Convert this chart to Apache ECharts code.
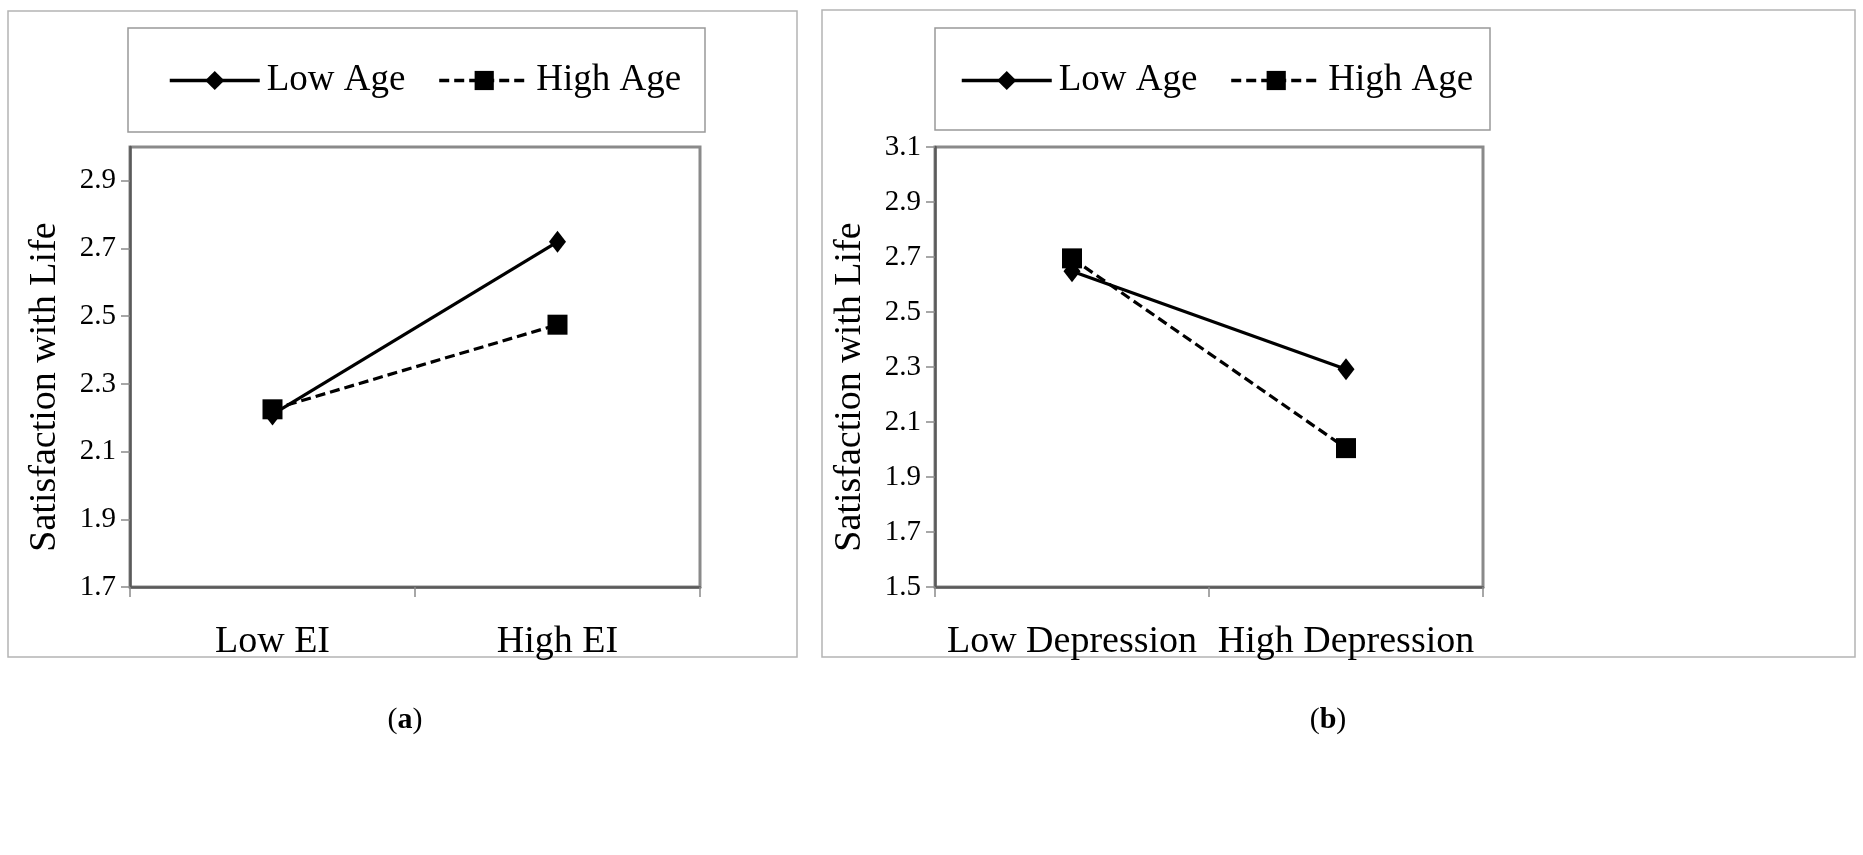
<!DOCTYPE html>
<html>
<head>
<meta charset="utf-8">
<script src="https://cdn.jsdelivr.net/npm/echarts@6/dist/echarts.min.js"></script>
<style>
html,body{margin:0;padding:0;background:#fff;}
#c{width:1863px;height:855px;}
</style>
</head>
<body>
<div id="c"></div>
<script>
// ---- data ----
const seriesNames = ['Low Age', 'High Age'];
const catsA = ['Low EI', 'High EI'];
const lowAgeA = [2.21, 2.72];
const highAgeA = [2.225, 2.475];
const catsB = ['Low Depression', 'High Depression'];
const lowAgeB = [2.648, 2.292];
const highAgeB = [2.695, 2.005];
const yAxisTitle = 'Satisfaction with Life';
const ticksA = [1.7, 1.9, 2.1, 2.3, 2.5, 2.7, 2.9];
const rangeA = [1.7, 3.0];
const ticksB = [1.5, 1.7, 1.9, 2.1, 2.3, 2.5, 2.7, 2.9, 3.1];
const rangeB = [1.5, 3.1];
const captions = ['a', 'b'];

// ---- chart ----
const chart = echarts.init(document.getElementById('c'));
const serif = 'Liberation Serif';

function yAxisFor(ticks, range, gi) {
  return {
    type: 'value', gridIndex: gi,
    min: range[0], max: range[1],
    name: yAxisTitle, nameLocation: 'middle', nameGap: 66, nameRotate: 90,
    nameTextStyle: {fontFamily: serif, fontSize: 38, color: '#000', padding: [0, 40, 0, 0]},
    axisLine: {show: true, lineStyle: {color: '#5a5a5a', width: 2.5}},
    axisTick: {show: true, length: 9, customValues: ticks, lineStyle: {color: '#8a8a8a', width: 1.5}},
    splitLine: {show: false},
    axisLabel: {
      fontFamily: serif, fontSize: 29, color: '#000', margin: 14,
      customValues: ticks,
      formatter: v => (+v).toFixed(1)
    }
  };
}
function xAxisFor(cats, gi) {
  return {
    type: 'category', gridIndex: gi, data: cats, boundaryGap: true,
    axisLine: {show: true, lineStyle: {color: '#5a5a5a', width: 2.5}},
    axisTick: {show: true, length: 10, lineStyle: {color: '#8a8a8a', width: 1.5}},
    axisLabel: {fontFamily: serif, fontSize: 38, color: '#000', margin: 36, interval: 0, hideOverlap: false}
  };
}
function seriesFor(vals, idx, gi) {
  const solid = idx === 0;
  return {
    name: seriesNames[idx], type: 'line', xAxisIndex: gi, yAxisIndex: gi,
    data: vals,
    symbol: solid ? 'diamond' : 'rect',
    symbolSize: solid ? [17, 22] : 20,
    itemStyle: {color: '#000'},
    lineStyle: {color: '#000', width: 3.2, type: solid ? 'solid' : [10, 5]},
    z: solid ? 2 : 3,
    animation: false
  };
}
function legendFor(left) {
  return {
    data: seriesNames.map(n => ({name: n})),
    left: left, top: 57, orient: 'horizontal',
    itemWidth: 90, itemHeight: 24, itemGap: 32,
    lineStyle: {width: 3.5},
    textStyle: {fontFamily: serif, fontSize: 37, color: '#000', padding: [0, 0, 0, 2]},
    selectedMode: false
  };
}
function captionText(letter, x) {
  return {type: 'text', silent: true, style: {text: '{p|(}{b|' + letter + '}{p|)}', x: x, y: 720, align: 'center', verticalAlign: 'middle',
    rich: {p: {fontFamily: serif, fontSize: 30, fill: '#000'}, b: {fontFamily: serif, fontSize: 30, fontWeight: 'bold', fill: '#000'}}}};
}

const option = {
  backgroundColor: '#fff',
  animation: false,
  grid: [
    {left: 130, top: 147, width: 570, height: 440, show: true, borderColor: '#8a8a8a', borderWidth: 3, containLabel: false},
    {left: 935, top: 147, width: 548, height: 440, show: true, borderColor: '#8a8a8a', borderWidth: 3, containLabel: false}
  ],
  xAxis: [xAxisFor(catsA, 0), xAxisFor(catsB, 1)],
  yAxis: [yAxisFor(ticksA, rangeA, 0), yAxisFor(ticksB, rangeB, 1)],
  legend: [legendFor(163), legendFor(955)],
  series: [
    seriesFor(lowAgeA, 0, 0),
    seriesFor(highAgeA, 1, 0),
    seriesFor(lowAgeB, 0, 1),
    seriesFor(highAgeB, 1, 1)
  ],
  graphic: [
    {type: 'rect', shape: {x: 8, y: 11, width: 789, height: 646}, style: {fill: 'none', stroke: '#b4b4b4', lineWidth: 1.5}, z: -10, silent: true},
    {type: 'rect', shape: {x: 822, y: 10, width: 1033, height: 647}, style: {fill: 'none', stroke: '#b4b4b4', lineWidth: 1.5}, z: -10, silent: true},
    {type: 'rect', shape: {x: 128, y: 28, width: 577, height: 104}, style: {fill: 'none', stroke: '#999', lineWidth: 1.5}, z: -10, silent: true},
    {type: 'rect', shape: {x: 935, y: 28, width: 555, height: 102}, style: {fill: 'none', stroke: '#999', lineWidth: 1.5}, z: -10, silent: true},
    captionText(captions[0], 405),
    captionText(captions[1], 1328)
  ]
};
chart.setOption(option);
</script>
</body>
</html>
